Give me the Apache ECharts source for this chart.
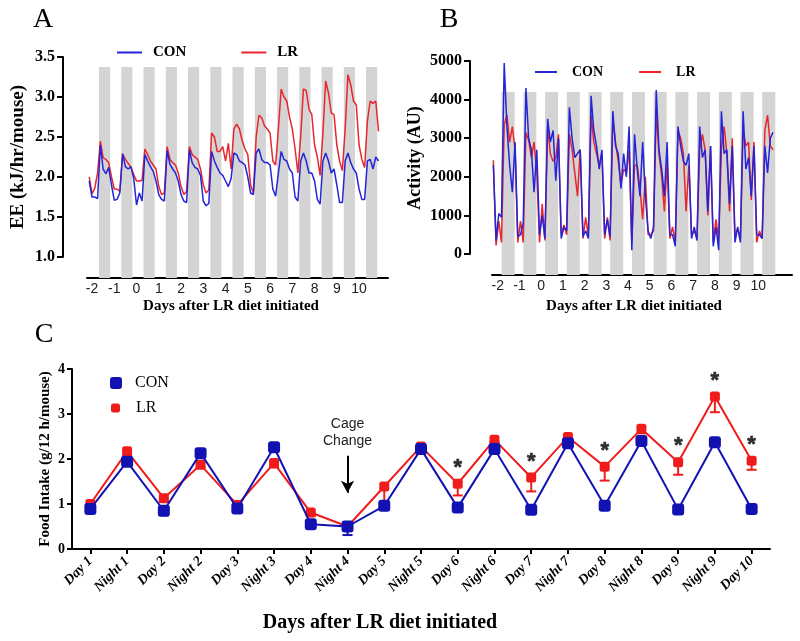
<!DOCTYPE html>
<html><head><meta charset="utf-8">
<script src="https://cdn.jsdelivr.net/npm/echarts@6/dist/echarts.min.js"></script>
<style>html,body{margin:0;padding:0;background:#fff}#c{width:800px;height:641px}</style>
</head><body><div id="c"></div>
<script>
const SERIF = "'Liberation Serif','Times New Roman',serif";
const SANS = "'Liberation Sans',Arial,sans-serif";
const BLUE_AB = '#2424d8', RED_AB = '#e8262b';
const BLUE_C = '#1212b2', RED_C = '#f01c1c';

// ---------- Panel A : energy expenditure ----------
const dayTicks = [-2,-1,0,1,2,3,4,5,6,7,8,9,10];
const eeStart = -2.125, eeStep = 0.125;   // sampling grid (days)
const eeLR = [2.00,1.79,1.86,2.05,2.45,2.24,2.22,2.18, 2.00,1.85,1.85,1.82,2.29,2.22,2.17,2.12,
  2.03,1.95,1.95,1.96,2.35,2.28,2.20,2.15, 2.10,1.88,1.78,1.80,2.38,2.22,2.18,2.15,
  2.05,1.88,1.78,1.82,2.38,2.28,2.25,2.22, 2.10,1.90,1.80,1.84,2.55,2.50,2.32,2.32,
  2.38,2.20,2.42,2.10,2.60,2.66,2.60,2.45, 2.35,2.28,1.90,1.80,2.50,2.77,2.74,2.64,
  2.60,2.55,2.20,2.15,2.60,3.10,3.00,2.95, 2.75,2.60,2.35,2.05,2.50,3.10,3.08,2.85,
  2.78,2.40,2.25,2.02,2.55,3.20,3.05,2.80, 2.78,2.40,2.20,2.08,2.60,3.28,3.15,2.95,
  2.90,2.40,2.22,2.12,2.70,2.95,2.92,2.95, 2.57];
const eeCON = [1.95,1.75,1.75,1.73,2.40,2.10,2.04,2.12, 1.90,1.71,1.72,1.80,2.29,2.13,2.10,2.13,
  1.98,1.65,1.80,1.70,2.28,2.20,2.13,2.07, 1.95,1.78,1.72,1.70,2.33,2.16,2.10,2.05,
  1.95,1.78,1.70,1.68,2.34,2.18,2.12,2.10, 2.02,1.70,1.64,1.67,2.32,2.20,2.12,2.05,
  2.02,1.95,1.88,1.98,2.30,2.28,2.20,2.18, 2.15,2.00,1.80,1.78,2.30,2.35,2.22,2.18,
  2.18,2.15,1.85,1.76,2.05,2.32,2.22,2.20, 2.10,2.05,1.75,1.70,2.20,2.30,2.20,2.05,
  2.05,1.95,1.72,1.66,2.20,2.30,2.20,2.05, 2.10,1.90,1.68,1.68,2.20,2.30,2.18,2.10,
  2.05,1.85,1.72,1.72,2.20,2.22,2.10,2.25, 2.20];
const eeNightStart = [-1.685,-0.685,0.315,1.315,2.315,3.315,4.315,5.315,6.315,7.315,8.315,9.315,10.315];
const eeNightLen = 0.5, eeNightTop = 3.375;

// ---------- Panel B : activity ----------
const actStart = -2.2, actStep = 0.125;
const actCON = [2300,350,1050,950,4950,3300,2300,1600, 2900,450,500,800,4300,3000,2700,1600,
  2700,500,1000,400,3500,2900,3200,1900, 3000,400,700,600,3800,3000,2500,2600,
  2700,450,600,400,4100,3200,2800,2200, 2700,500,900,450,3700,2800,2600,1700,
  2600,2000,3300,100,3100,2200,1500,2900, 1500,600,400,700,4250,2700,2200,1500,
  2900,500,500,200,3300,2800,2400,2300, 2600,400,700,350,3300,2500,2700,1100,
  2800,200,700,100,3700,2600,2700,1300, 2800,300,700,300,3700,2200,2500,1500,
  2800,500,500,400,2800,2100,3000,3150];
const actLR = [2430,220,850,300,3350,3600,2900,3300, 2700,300,850,300,3150,2950,2500,2900,
  2100,300,1300,350,3300,2600,2400,2500, 3100,500,750,500,3100,2700,2100,1500,
  2700,400,950,450,3600,2900,2600,2300, 2600,400,950,350,3500,2900,2400,1800,
  2200,2100,2700,300,2300,2300,1700,900, 2000,500,500,600,3700,2600,2000,1100,
  2400,400,700,300,3200,3000,2600,1100, 2300,500,600,400,2700,3100,2700,1000,
  2800,300,900,400,2700,3300,2600,1100, 3000,500,650,400,3200,2800,2900,1400,
  2900,300,600,400,3200,3600,2800,2700];
const actNightStart = [-1.82,-0.82,0.18,1.18,2.18,3.18,4.18,5.18,6.18,7.18,8.18,9.18,10.18];
const actNightLen = 0.6, actNightTop = 4200;

// ---------- Panel C : food intake ----------
const foodCats = ['Day 1','Night 1','Day 2','Night 2','Day 3','Night 3','Day 4','Night 4','Day 5','Night 5',
  'Day 6','Night 6','Day 7','Night 7','Day 8','Night 8','Day 9','Night 9','Day 10'];
const foodCON = [0.89,1.94,0.85,2.13,0.90,2.26,0.55,0.50,0.96,2.22,0.92,2.22,0.87,2.35,0.96,2.40,0.88,2.37,0.89];
const foodCONerr = [0.05,0.05,0.10,0.05,0.05,0.08,0.06,0.19,0.05,0.05,0.04,0.05,0.04,0.05,0.04,0.05,0.04,0.05,0.04];
const foodLR = [1.00,2.17,1.13,1.87,0.98,1.91,0.81,0.50,1.39,2.28,1.45,2.43,1.59,2.49,1.83,2.67,1.93,3.39,1.96];
const foodLRerr = [0.05,0.08,0.08,0.06,0.05,0.10,0.08,0.05,0.35,0.10,0.26,0.05,0.31,0.05,0.31,0.10,0.28,0.35,0.20];
const foodSig = [0,0,0,0,0,0,0,0,0,0,1,0,1,0,1,0,1,1,1];
const cageChange = {cat:'Night 4', from:2.07, to:1.25, text:'Cage\nChange'};

const pairs = (start, step, arr) => arr.map((v, i) => [start + step * i, v]);

function nightBars(params, api) {
  const p1 = api.coord([api.value(0), api.value(2)]);
  const p2 = api.coord([api.value(1), api.value(2)]);
  const cs = params.coordSys;
  return {type:'rect', shape:{x:p1[0], y:p1[1], width:p2[0]-p1[0], height:cs.y + cs.height - p1[1]},
          style:{fill:'#d4d4d4'}};
}
function errBars(color) {
  return function (params, api) {
    const i = api.value(0), v = api.value(1), e = api.value(2);
    const p = api.coord([i, v]), q = api.coord([i, v - e]);
    return {type:'group', children:[
      {type:'line', shape:{x1:p[0], y1:p[1], x2:q[0], y2:q[1]}, style:{stroke:color, lineWidth:2}},
      {type:'line', shape:{x1:q[0]-5, y1:q[1], x2:q[0]+5, y2:q[1]}, style:{stroke:color, lineWidth:2}}
    ]};
  };
}

const axBlack = {show:true, lineStyle:{color:'#000', width:2}};
const yLeft = (grid, min, max, interval, fmt, fs) => ({
  gridIndex:grid, type:'value', min, max, interval,
  axisLine:axBlack, axisTick:{show:true, length:6, lineStyle:{color:'#000', width:2}},
  splitLine:{show:false},
  axisLabel:{formatter:fmt, fontFamily:SERIF, fontWeight:'bold', fontSize:fs, color:'#000', margin:8}
});
const xDays = (grid, min, max) => ({
  gridIndex:grid, type:'value', min, max,
  axisLine:{show:true, onZero:false, lineStyle:{color:'#000', width:2}},
  axisTick:{show:false}, splitLine:{show:false},
  axisLabel:{customValues:dayTicks, formatter:v => String(v), color:'#222', fontFamily:SANS, fontSize:14, margin:4}
});

const option = {
  animation:false,
  backgroundColor:'#fff',
  grid:[
    {left:63, top:57, width:1, height:200},
    {left:87, top:57, width:301, height:221},
    {left:470, top:61, width:1, height:193},
    {left:492, top:61, width:300, height:214},
    {left:72, top:369, width:698, height:180}
  ],
  xAxis:[
    {gridIndex:0, type:'value', show:false},
    xDays(1, -2.225, 11.3),
    {gridIndex:2, type:'value', show:false},
    xDays(3, -2.262, 11.55),
    {gridIndex:4, type:'category', data:foodCats, boundaryGap:true,
     axisLine:{show:true, lineStyle:{color:'#000', width:2}},
     axisTick:{show:true, alignWithLabel:true, length:5, lineStyle:{color:'#000', width:2}},
     axisLabel:{rotate:45, interval:0, fontFamily:SERIF, fontWeight:'bold', fontStyle:'italic', fontSize:14, color:'#000', margin:10}}
  ],
  yAxis:[
    yLeft(0, 1, 3.5, 0.5, v => v.toFixed(1), 16),
    {gridIndex:1, type:'value', min:0.7375, max:3.5, show:false},
    yLeft(2, 0, 5000, 1000, v => String(v), 16),
    {gridIndex:3, type:'value', min:-544, max:5000, show:false},
    Object.assign(yLeft(4, 0, 4, 1, v => String(v), 14), {axisTick:{show:true, length:5, lineStyle:{color:'#000', width:2}}, axisLabel:{fontFamily:SERIF, fontWeight:'bold', fontSize:14, color:'#000', margin:7}})
  ],
  legend:[
    {data:[{name:'CON', itemStyle:{color:BLUE_AB}}, {name:'LR', itemStyle:{color:RED_AB}}],
     left:112, top:40, icon:'rect', itemWidth:25, itemHeight:2, itemGap:55, selectedMode:false,
     textStyle:{fontFamily:SERIF, fontWeight:'bold', fontSize:15, color:'#000', padding:[0,0,0,6]}},
    {data:[{name:'CON', itemStyle:{color:BLUE_AB}}, {name:'LR', itemStyle:{color:RED_AB}}],
     left:530, top:60, icon:'rect', itemWidth:22, itemHeight:2, itemGap:36, selectedMode:false,
     textStyle:{fontFamily:SERIF, fontWeight:'bold', fontSize:14, color:'#000', padding:[0,0,0,10]}},
    {data:[{name:'CON', icon:'roundRect', itemStyle:{color:BLUE_C}}],
     left:105, top:370, itemWidth:12, itemHeight:12, selectedMode:false,
     textStyle:{fontFamily:SERIF, fontSize:16, color:'#000', padding:[0,0,0,8]}},
    {data:[{name:'LR', icon:'roundRect', itemStyle:{color:RED_C}}],
     left:106, top:395, itemWidth:9, itemHeight:9, selectedMode:false,
     textStyle:{fontFamily:SERIF, fontSize:16, color:'#000', padding:[0,0,0,11]}}
  ],
  graphic:[
    {type:'text', x:43, y:20, style:{text:'A', font:`28px ${SERIF}`, fill:'#000', textAlign:'center', textVerticalAlign:'middle'}},
    {type:'text', x:449, y:20, style:{text:'B', font:`28px ${SERIF}`, fill:'#000', textAlign:'center', textVerticalAlign:'middle'}},
    {type:'text', x:44, y:335, style:{text:'C', font:`28px ${SERIF}`, fill:'#000', textAlign:'center', textVerticalAlign:'middle'}},
    {type:'text', x:18, y:157, rotation:Math.PI/2, style:{text:'EE (kJ/hr/mouse)', font:`bold 19px ${SERIF}`, fill:'#000', textAlign:'center', textVerticalAlign:'middle'}},
    {type:'text', x:415, y:158, rotation:Math.PI/2, style:{text:'Activity (AU)', font:`bold 18px ${SERIF}`, fill:'#000', textAlign:'center', textVerticalAlign:'middle'}},
    {type:'text', x:45, y:459, rotation:Math.PI/2, style:{text:'Food Intake (g/12 h/mouse)', font:`bold 15px ${SERIF}`, fill:'#000', textAlign:'center', textVerticalAlign:'middle'}},
    {type:'text', x:231, y:306, style:{text:'Days after LR diet initiated', font:`bold 15px ${SERIF}`, fill:'#000', textAlign:'center', textVerticalAlign:'middle'}},
    {type:'text', x:634, y:306, style:{text:'Days after LR diet initiated', font:`bold 15px ${SERIF}`, fill:'#000', textAlign:'center', textVerticalAlign:'middle'}},
    {type:'text', x:380, y:623, style:{text:'Days after LR diet initiated', font:`bold 20px ${SERIF}`, fill:'#000', textAlign:'center', textVerticalAlign:'middle'}}
  ],
  series:[
    {type:'custom', xAxisIndex:1, yAxisIndex:1, silent:true, z:1, renderItem:nightBars, encode:{x:[0,1], y:2},
     data:eeNightStart.map(s => [s, s + eeNightLen, eeNightTop])},
    {type:'line', name:'LR', xAxisIndex:1, yAxisIndex:1, z:2, showSymbol:false, color:RED_AB,
     lineStyle:{width:1.5, color:RED_AB}, data:pairs(eeStart, eeStep, eeLR)},
    {type:'line', name:'CON', xAxisIndex:1, yAxisIndex:1, z:3, showSymbol:false, color:BLUE_AB,
     lineStyle:{width:1.5, color:BLUE_AB}, data:pairs(eeStart, eeStep, eeCON)},

    {type:'custom', xAxisIndex:3, yAxisIndex:3, silent:true, z:1, renderItem:nightBars, encode:{x:[0,1], y:2},
     data:actNightStart.map(s => [s, s + actNightLen, actNightTop])},
    {type:'line', name:'LR', xAxisIndex:3, yAxisIndex:3, z:2, showSymbol:false, color:RED_AB,
     lineStyle:{width:1.5, color:RED_AB}, data:pairs(actStart, actStep, actLR)},
    {type:'line', name:'CON', xAxisIndex:3, yAxisIndex:3, z:3, showSymbol:false, color:BLUE_AB,
     lineStyle:{width:1.5, color:BLUE_AB}, data:pairs(actStart, actStep, actCON)},

    {type:'custom', xAxisIndex:4, yAxisIndex:4, silent:true, z:2, renderItem:errBars(RED_C), encode:{x:0, y:1},
     data:foodLR.map((v, i) => [i, v, foodLRerr[i]])},
    {type:'line', name:'LR', xAxisIndex:4, yAxisIndex:4, z:3, symbol:'roundRect', symbolSize:10, color:RED_C,
     lineStyle:{width:2, color:RED_C}, itemStyle:{color:RED_C}, data:foodLR},
    {type:'custom', xAxisIndex:4, yAxisIndex:4, silent:true, z:4, renderItem:errBars(BLUE_C), encode:{x:0, y:1},
     data:foodCON.map((v, i) => [i, v, foodCONerr[i]])},
    {type:'line', name:'CON', xAxisIndex:4, yAxisIndex:4, z:5, symbol:'roundRect', symbolSize:12, color:BLUE_C,
     lineStyle:{width:2, color:BLUE_C}, itemStyle:{color:BLUE_C}, data:foodCON,
     markLine:{silent:true, symbol:['none','arrow'], symbolSize:[10,12],
       lineStyle:{color:'#000', width:2, type:'solid'},
       label:{show:true, position:'start', formatter:cageChange.text, fontFamily:SANS, fontSize:14, color:'#222', lineHeight:17, distance:6},
       data:[[{coord:[cageChange.cat, cageChange.from]}, {coord:[cageChange.cat, cageChange.to]}]]}},
    {type:'scatter', xAxisIndex:4, yAxisIndex:4, z:6, symbolSize:2, itemStyle:{color:'rgba(0,0,0,0)'}, silent:true,
     label:{show:true, position:'top', distance:4, formatter:'*', fontFamily:SANS, fontWeight:'bold', fontSize:22, color:'#000', textBorderColor:'#000', textBorderWidth:0.6},
     data:foodLR.map((v, i) => foodSig[i] ? [i, v] : null).filter(d => d)}
  ]
};
echarts.init(document.getElementById('c'), null, {renderer:'canvas'}).setOption(option);
</script></body></html>
